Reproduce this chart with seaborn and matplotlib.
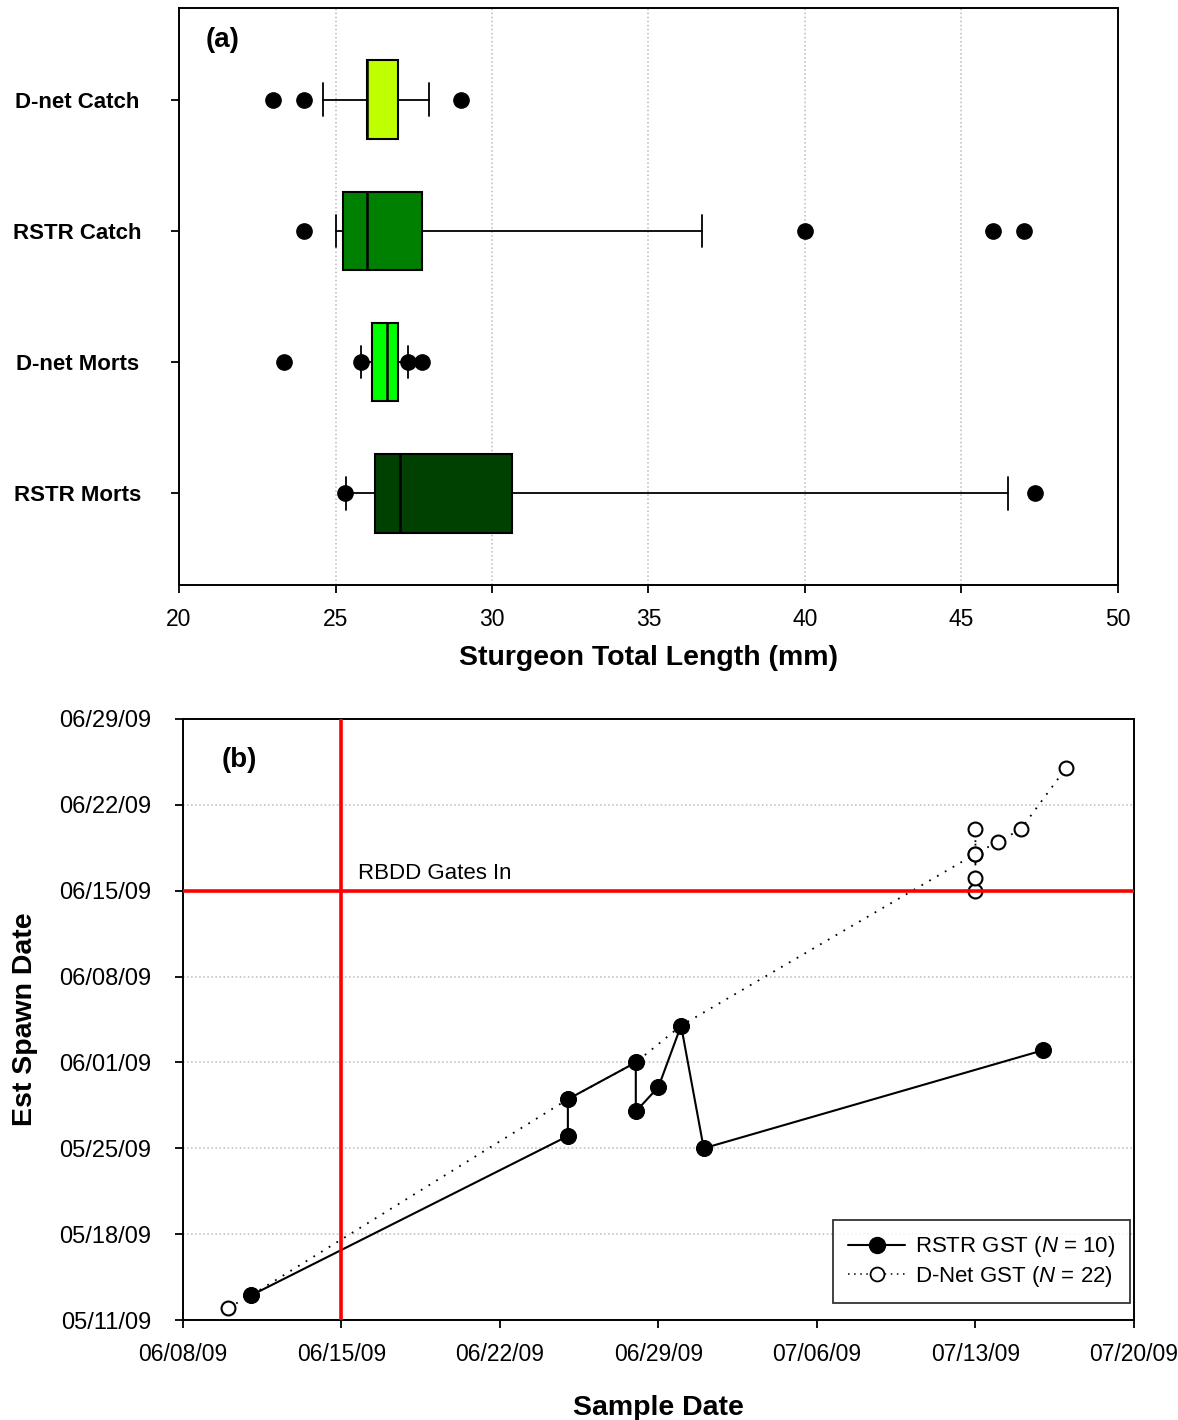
import pandas as pd
import matplotlib
matplotlib.use("Agg")
import matplotlib.pyplot as plt
import matplotlib.dates as mdates
from matplotlib.lines import Line2D
import seaborn as sns

# ---- panel (a): box summaries of sturgeon total length (mm) ----
groups = ["D-net Catch", "RSTR Catch", "D-net Morts", "RSTR Morts"]
box_colors = ["#C0FF00", "#008000", "#00FF00", "#004000"]
q1 = [26.0, 25.25, 26.15, 26.25]
median = [26.0, 26.0, 26.65, 27.05]
q3 = [27.0, 27.75, 27.0, 30.65]
whisker_lo = [24.6, 25.0, 25.8, 25.35]
whisker_hi = [28.0, 36.7, 27.3, 46.5]
outliers = [[23.0, 24.0, 29.0],
            [24.0, 40.0, 46.0, 47.0],
            [23.35, 25.8, 27.3, 27.75],
            [25.3, 47.35]]
length_ticks = [20, 25, 30, 35, 40, 45, 50]

# ---- panel (b): sample date vs estimated spawn date ----
rstr_sample = ["2009-06-11", "2009-06-25", "2009-06-25", "2009-06-28", "2009-06-28",
               "2009-06-29", "2009-06-30", "2009-07-01", "2009-07-16"]
rstr_spawn = ["2009-05-13", "2009-05-26", "2009-05-29", "2009-06-01", "2009-05-28",
              "2009-05-30", "2009-06-04", "2009-05-25", "2009-06-02"]
dnet_sample = ["2009-06-10", "2009-06-11", "2009-06-25", "2009-06-28", "2009-06-30",
               "2009-07-13", "2009-07-13", "2009-07-13", "2009-07-13", "2009-07-13",
               "2009-07-14", "2009-07-15", "2009-07-17"]
dnet_spawn = ["2009-05-12", "2009-05-13", "2009-05-29", "2009-06-01", "2009-06-04",
              "2009-06-18", "2009-06-15", "2009-06-16", "2009-06-20", "2009-06-18",
              "2009-06-19", "2009-06-20", "2009-06-25"]
gates_in = "2009-06-15"
sample_ticks = pd.date_range("2009-06-08", "2009-07-20", freq="7D")
spawn_ticks = pd.date_range("2009-05-11", "2009-06-29", freq="7D")

rstr = pd.DataFrame({"sample": pd.to_datetime(rstr_sample), "spawn": pd.to_datetime(rstr_spawn)})
dnet = pd.DataFrame({"sample": pd.to_datetime(dnet_sample), "spawn": pd.to_datetime(dnet_spawn)})

sns.set_theme(style="white")
plt.rcParams["font.family"] = ["Liberation Sans", "DejaVu Sans"]
plt.rcParams["mathtext.fontset"] = "custom"
plt.rcParams["mathtext.rm"] = "Liberation Sans"
plt.rcParams["mathtext.it"] = "Liberation Sans:italic"
for key in ["text.color", "axes.labelcolor", "xtick.color", "ytick.color"]:
    plt.rcParams[key] = "black"

fig = plt.figure(figsize=(11.78, 14.2), dpi=100)
ax1 = fig.add_axes([0.152, 0.588, 0.797, 0.4064])
ax2 = fig.add_axes([0.1553, 0.0704, 0.8073, 0.4233])

# ---------------- panel (a) ----------------
stats = []
for i, g in enumerate(groups):
    stats.append({"label": g, "q1": q1[i], "med": median[i], "q3": q3[i],
                  "whislo": whisker_lo[i], "whishi": whisker_hi[i], "fliers": outliers[i]})

bp = ax1.bxp(stats, positions=range(len(groups)), widths=0.6, capwidths=0.25,
             orientation="horizontal", patch_artist=True,
             boxprops=dict(edgecolor="black", linewidth=1.5),
             medianprops=dict(color="black", linewidth=1.8),
             whiskerprops=dict(color="black", linewidth=1.3),
             capprops=dict(color="black", linewidth=1.3),
             flierprops=dict(marker="o", markerfacecolor="black", markeredgecolor="black",
                             markersize=11))
for patch, c in zip(bp["boxes"], box_colors):
    patch.set_facecolor(c)

ax1.set_xlim(20, 50)
ax1.set_ylim(3.7, -0.7)
ax1.set_xticks(length_ticks)
ax1.set_yticks(range(len(groups)))
ax1.set_yticklabels(groups, fontsize=16, fontweight="bold")
for lab in ax1.get_yticklabels():
    lab.set_horizontalalignment("center")
ax1.tick_params(axis="y", length=6, width=1.3, pad=67, left=True)
ax1.tick_params(axis="x", length=6, width=1.3, pad=10.5, labelsize=16.5, bottom=True)
ax1.xaxis.grid(True, linestyle=":", color="#bbbbbb", linewidth=1.1)
ax1.set_axisbelow(True)
ax1.set_xlabel("Sturgeon Total Length (mm)", fontsize=20.5, fontweight="bold", labelpad=10)
ax1.text(0.028, 0.945, "(a)", transform=ax1.transAxes, fontsize=20, fontweight="bold",
         ha="left", va="center")
for s in ax1.spines.values():
    s.set_linewidth(1.4)
    s.set_color("black")

# ---------------- panel (b) ----------------
sns.lineplot(data=dnet, x="sample", y="spawn", sort=False, estimator=None, ax=ax2,
             color="black", linestyle=(0, (1, 4)), linewidth=1.3, marker="o",
             markersize=10, markerfacecolor="white", markeredgecolor="black",
             markeredgewidth=1.5, zorder=3)
sns.lineplot(data=rstr, x="sample", y="spawn", sort=False, estimator=None, ax=ax2,
             color="black", linewidth=1.5, marker="o", markersize=11.5,
             markerfacecolor="black", markeredgecolor="black", zorder=4)

ax2.axvline(pd.Timestamp(gates_in), color="red", linewidth=2.6, zorder=5)
ax2.axhline(pd.Timestamp(gates_in), color="red", linewidth=2.6, zorder=5)
ax2.annotate("RBDD Gates In", xy=(pd.Timestamp(gates_in), pd.Timestamp(gates_in)),
             xytext=(12, 4.5), textcoords="offset points", fontsize=16,
             ha="left", va="bottom")

ax2.set_xlim(sample_ticks[0], sample_ticks[-1])
ax2.set_ylim(spawn_ticks[0], spawn_ticks[-1])
ax2.set_xticks(sample_ticks)
ax2.set_yticks(spawn_ticks)
ax2.xaxis.set_major_formatter(mdates.DateFormatter("%m/%d/%y"))
ax2.yaxis.set_major_formatter(mdates.DateFormatter("%m/%d/%y"))
ax2.tick_params(axis="both", length=6, width=1.3, left=True, bottom=True)
ax2.tick_params(axis="y", pad=17, labelsize=17)
ax2.tick_params(axis="x", pad=10.5, labelsize=16.5)
ax2.yaxis.grid(True, linestyle=":", color="#bbbbbb", linewidth=1.1)
ax2.set_axisbelow(True)
ax2.set_xlabel("Sample Date", fontsize=20.5, fontweight="bold", labelpad=21)
ax2.set_ylabel("Est Spawn Date", fontsize=20.5, fontweight="bold", labelpad=15)
ax2.text(0.041, 0.932, "(b)", transform=ax2.transAxes, fontsize=20, fontweight="bold",
         ha="left", va="center")
for s in ax2.spines.values():
    s.set_linewidth(1.4)
    s.set_color("black")

handles = [
    Line2D([], [], color="black", linewidth=1.5, marker="o", markersize=11.5,
           markerfacecolor="black", markeredgecolor="black"),
    Line2D([], [], color="black", linestyle=(0, (1, 3)), linewidth=1.1, marker="o",
           markersize=10, markerfacecolor="white", markeredgecolor="black",
           markeredgewidth=1.3),
]
labels = [r"RSTR GST ($\mathit{N}$ = 10)", r"D-Net GST ($\mathit{N}$ = 22)"]
leg = ax2.legend(handles, labels, loc="lower right", bbox_to_anchor=(0.996, 0.028),
                 borderaxespad=0, fontsize=16, frameon=True, fancybox=False,
                 handlelength=2.6, handletextpad=0.45, labelspacing=0.2,
                 borderpad=0.65)
leg.get_frame().set_edgecolor("black")
leg.get_frame().set_linewidth(1.3)
leg.set_zorder(10)

fig.savefig("out.png", dpi=100)
